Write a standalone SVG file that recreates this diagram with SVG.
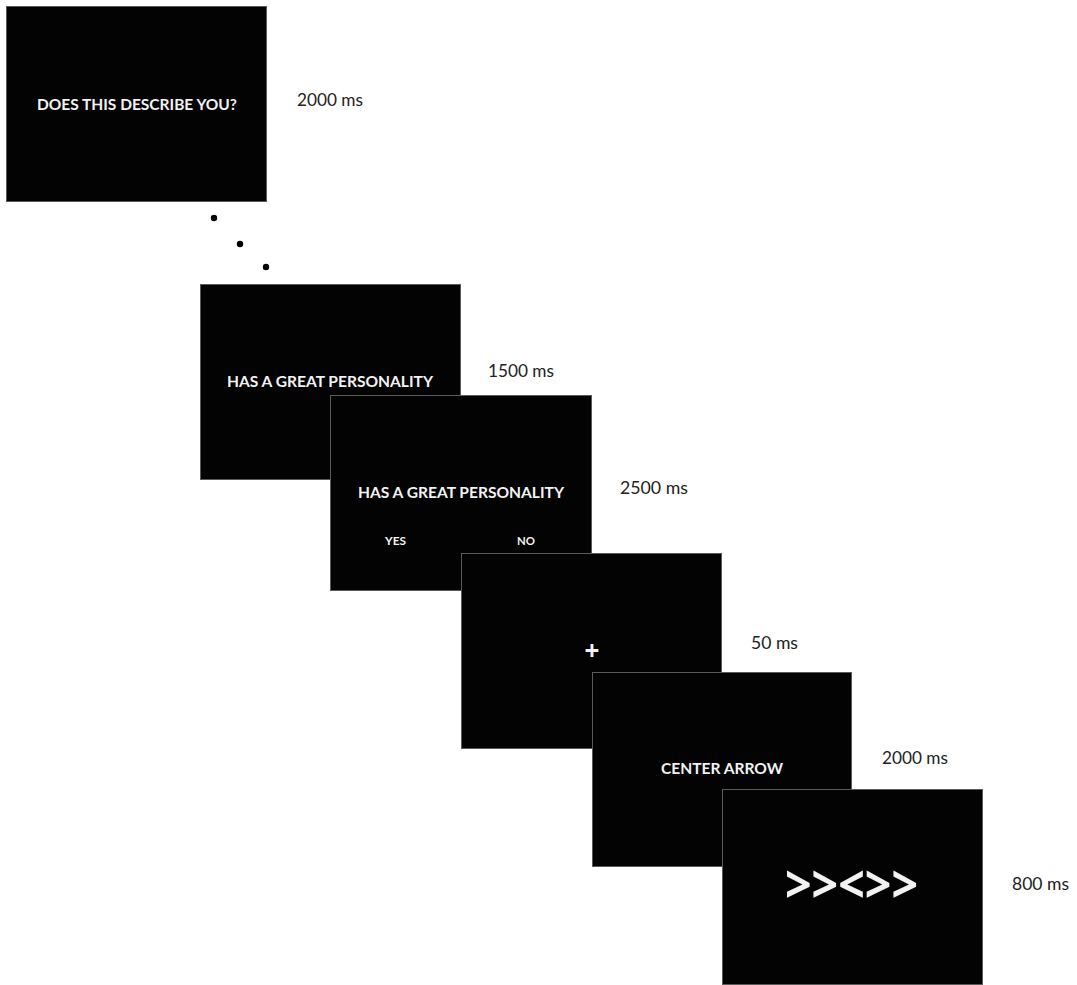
<svg xmlns="http://www.w3.org/2000/svg" width="1077" height="985" viewBox="0 0 1077 985">
<style>
.scr{fill:#030303;stroke:#5a5a5a;stroke-width:1}
.t{font-family:Lato,"Open Sans","Liberation Sans",sans-serif;font-weight:bold;fill:#f2f2f2}
.lbl{font-family:Lato,"Open Sans","Liberation Sans",sans-serif;font-size:16.5px;fill:#222}
.dot{fill:#000}
.sym{font-family:"Open Sans","Liberation Sans",sans-serif;fill:#f2f2f2;font-weight:bold}
</style>
<rect width="1077" height="985" fill="#fff"/>
<g id="screen1">
<rect class="scr" x="6.5" y="6.5" width="260" height="195"/>
<text class="t" x="37" y="110" font-size="15.5" textLength="200" lengthAdjust="spacingAndGlyphs">DOES THIS DESCRIBE YOU?</text>
</g>
<g id="label1"><text class="lbl" x="297" y="106" textLength="66" lengthAdjust="spacingAndGlyphs">2000 ms</text></g>
<g id="connectors">
<circle class="dot" cx="214" cy="218" r="3.2"/>
<circle class="dot" cx="240" cy="244" r="3.2"/>
<circle class="dot" cx="266" cy="267" r="3.2"/>
</g>
<g id="screen2">
<rect class="scr" x="200.5" y="284.5" width="260" height="195"/>
<text class="t" x="227" y="387" font-size="15.5" textLength="206" lengthAdjust="spacingAndGlyphs">HAS A GREAT PERSONALITY</text>
</g>
<g id="label2"><text class="lbl" x="488" y="377" textLength="66" lengthAdjust="spacingAndGlyphs">1500 ms</text></g>
<g id="screen3">
<rect class="scr" x="330.5" y="395.5" width="261" height="195"/>
<text class="t" x="358" y="498" font-size="15.5" textLength="206" lengthAdjust="spacingAndGlyphs">HAS A GREAT PERSONALITY</text>
<text class="t" x="385" y="545" font-size="11.5" textLength="21" lengthAdjust="spacingAndGlyphs">YES</text>
<text class="t" x="517" y="545" font-size="11.5" textLength="18" lengthAdjust="spacingAndGlyphs">NO</text>
</g>
<g id="label3"><text class="lbl" x="620" y="494" textLength="68" lengthAdjust="spacingAndGlyphs">2500 ms</text></g>
<g id="screen4">
<rect class="scr" x="461.5" y="553.5" width="260" height="195"/>
<text class="sym" x="592" y="660" font-size="26" text-anchor="middle">+</text>
</g>
<g id="label4"><text class="lbl" x="751" y="649" textLength="47" lengthAdjust="spacingAndGlyphs">50 ms</text></g>
<g id="screen5">
<rect class="scr" x="592.5" y="672.5" width="259" height="194"/>
<text class="t" x="661" y="774" font-size="15.5" textLength="122" lengthAdjust="spacingAndGlyphs">CENTER ARROW</text>
</g>
<g id="label5"><text class="lbl" x="882" y="764" textLength="66" lengthAdjust="spacingAndGlyphs">2000 ms</text></g>
<g id="screen6">
<rect class="scr" x="722.5" y="789.5" width="260" height="195"/>
<text class="sym" x="785" y="903" font-size="52" textLength="133" lengthAdjust="spacingAndGlyphs">&gt;&gt;&lt;&gt;&gt;</text>
</g>
<g id="label6"><text class="lbl" x="1012" y="890" textLength="57" lengthAdjust="spacingAndGlyphs">800 ms</text></g>
</svg>
